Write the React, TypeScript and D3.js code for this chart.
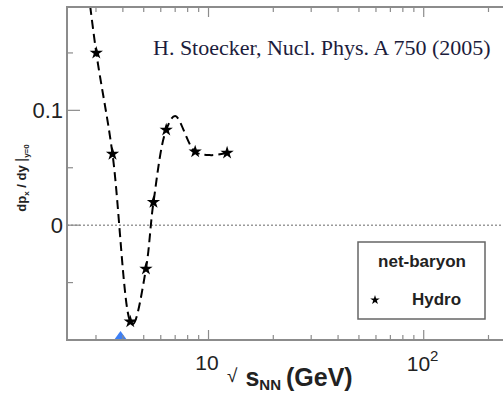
import React from "react";
import * as d3 from "d3";

// Hydro (net-baryon) points: sqrt(s_NN) [GeV] and dp_x/dy
const hydroEnergies = [3.01, 3.58, 4.33, 5.12, 5.55, 6.36, 8.67, 12.2];
const hydroValues = [0.15, 0.062, -0.084, -0.038, 0.02, 0.083, 0.064, 0.063];
// Dashed guide curve through the points
const curveEnergies = [2.72, 3.01, 3.58, 4.33, 4.47, 5.12, 5.55, 6.36, 7.0, 8.67, 10.3, 12.2];
const curveValues = [0.215, 0.15, 0.062, -0.084, -0.086, -0.038, 0.02, 0.083, 0.095, 0.064, 0.061, 0.063];
// Blue marker on the x axis
const markerEnergies = [3.9];
// Axis ticks
const yMajorTicks = [0, 0.1];
const yTickLabels = ["0", "0.1"];
const yMinorTicks = [-0.05, 0.05, 0.15];
const xMajorTicks = [10, 100];
const xMinorTicks = [3, 4, 5, 6, 7, 8, 9, 20, 30, 40, 50, 60, 70, 80, 90, 200];

const W = 503;
const H = 394;
const L = 67;
const T = 7;
const B = 340;
const DEC = 215.2;
const xDomain: [number, number] = [2.2, 260];

export default function App() {
  const x = d3
    .scaleLog()
    .domain(xDomain)
    .range([L, L + Math.log10(xDomain[1] / xDomain[0]) * DEC]);
  const y = d3.scaleLinear().domain([-0.1, 0.19]).range([B, T]);
  const R = x.range()[1];

  const curvePts = curveEnergies.map((e, i) => [e, curveValues[i]] as [number, number]);
  const line = d3
    .line<[number, number]>()
    .x((d) => x(d[0]))
    .y((d) => y(d[1]))
    .curve(d3.curveCatmullRom.alpha(0.5));

  const star = d3.symbol(d3.symbolStar, 55)() || "";
  const starSmall = d3.symbol(d3.symbolStar, 28)() || "";
  const frame = "#8c8c8c";
  const sans = "Liberation Sans, Arial, Helvetica, sans-serif";

  return (
    <svg
      width={W}
      height={H}
      style={{ position: "absolute", left: 0, top: 0, background: "#fff" }}
      fontFamily={sans}
    >
      <defs>
        <clipPath id="plot">
          <rect x={L} y={T} width={R - L} height={B - T} />
        </clipPath>
      </defs>
      <rect x={0} y={0} width={W} height={H} fill="#fff" />

      {/* zero line */}
      <line
        x1={L}
        x2={R}
        y1={y(0)}
        y2={y(0)}
        stroke="#9a9a9a"
        strokeWidth={1.5}
        strokeDasharray="2,2"
      />

      {/* curve */}
      <g clipPath="url(#plot)">
        <path
          d={line(curvePts) || ""}
          fill="none"
          stroke="#000"
          strokeWidth={2}
          strokeDasharray="9,5"
        />
      </g>

      {/* stars */}
      {hydroEnergies.map((e, i) => (
        <path
          key={i}
          d={star}
          transform={`translate(${x(e)},${y(hydroValues[i])})`}
          fill="#000"
        />
      ))}

      {/* blue marker */}
      {markerEnergies.map((e, i) => (
        <path
          key={i}
          d={`M${x(e) - 6.5},${B} L${x(e)},${B - 9} L${x(e) + 6.5},${B} Z`}
          fill="#3d7ff5"
        />
      ))}

      {/* frame */}
      <g stroke={frame} strokeWidth={2} fill="none">
        <line x1={L} x2={L} y1={T} y2={B} />
        <line x1={L - 1} x2={W} y1={T} y2={T} />
        <line x1={L - 1} x2={W} y1={B} y2={B} />
      </g>
      <g stroke={frame} strokeWidth={1.2}>
        {xMajorTicks.map((t) => (
          <g key={"M" + t}>
            <line x1={x(t)} x2={x(t)} y1={B} y2={B - 10} />
            <line x1={x(t)} x2={x(t)} y1={T} y2={T + 10} />
          </g>
        ))}
        {xMinorTicks.map((t) => (
          <g key={"m" + t}>
            <line x1={x(t)} x2={x(t)} y1={B} y2={B - 5} />
            <line x1={x(t)} x2={x(t)} y1={T} y2={T + 5} />
          </g>
        ))}
        {yMajorTicks.map((t) => (
          <line key={"yM" + t} x1={L} x2={L + 13} y1={y(t)} y2={y(t)} />
        ))}
        {yMinorTicks.map((t) => (
          <line key={"ym" + t} x1={L} x2={L + 6} y1={y(t)} y2={y(t)} />
        ))}
      </g>

      {/* y tick labels */}
      {yMajorTicks.map((t, i) => (
        <text
          key={"yl" + t}
          x={63}
          y={y(t) + 8}
          textAnchor="end"
          fontSize={22}
          fill="#222"
        >
          {yTickLabels[i]}
        </text>
      ))}

      {/* x tick labels */}
      <text x={x(10) - 1.5} y={370} textAnchor="middle" fontSize={21} fill="#222">
        10
      </text>
      <text x={x(100) - 17} y={371} fontSize={21} fill="#222">
        10
        <tspan fontSize={15} dy={-10}>
          2
        </tspan>
      </text>

      {/* x axis title */}
      <text x={227} y={386} fontSize={25} fill="#222">
        <tspan fontSize={19} fontWeight="normal" dy={-4}>
          √
        </tspan>
        <tspan fontWeight="bold" dy={4} dx={8}>
          s
        </tspan>
        <tspan fontWeight="bold" fontSize={15} dy={4}>
          NN
        </tspan>
        <tspan fontWeight="bold" dy={-4} dx={5}>
          (GeV)
        </tspan>
      </text>

      {/* y axis title */}
      <text
        transform="translate(26,178) rotate(-90)"
        textAnchor="middle"
        fontSize={13}
        fontWeight="bold"
        fill="#222"
      >
        dp
        <tspan fontSize={8} dy={3}>
          x
        </tspan>
        <tspan dy={-3}> / dy </tspan>
        <tspan fontWeight="normal" fontSize={15}>
          |
        </tspan>
        <tspan fontSize={8} dy={3}>
          y=0
        </tspan>
      </text>

      {/* citation */}
      <text
        x={153}
        y={55}
        fontFamily="Liberation Serif, Times New Roman, serif"
        fontSize={22}
        fill="#1c1c3c"
      >
        H. Stoecker, Nucl. Phys. A 750 (2005)
      </text>

      {/* legend */}
      <rect x={358} y={242} width={127} height={77} fill="#fff" stroke="#666" strokeWidth={1.5} />
      <text x={422} y={267} textAnchor="middle" fontSize={17} fontWeight="bold" fill="#222">
        net-baryon
      </text>
      <path d={starSmall} transform="translate(375,300)" fill="#000" />
      <text x={412} y={305} fontSize={17} fontWeight="bold" fill="#222">
        Hydro
      </text>
    </svg>
  );
}
